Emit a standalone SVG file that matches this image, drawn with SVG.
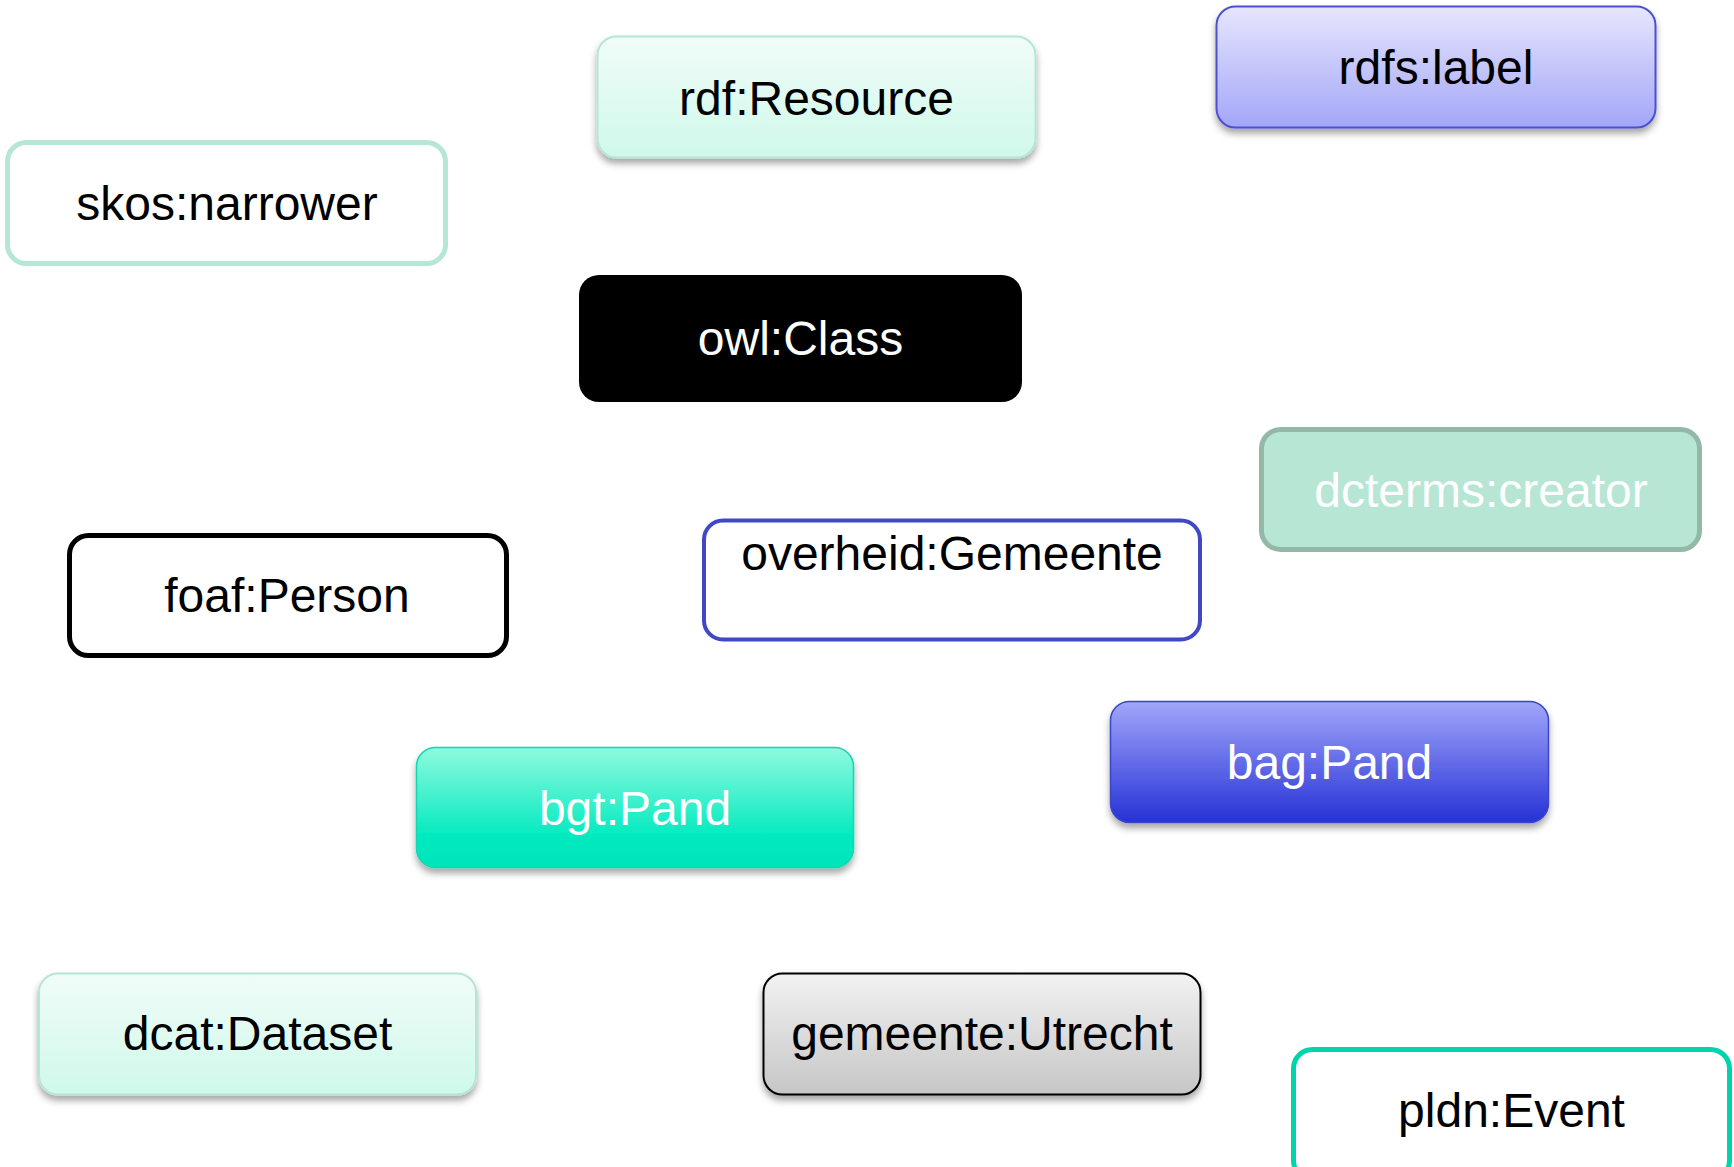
<svg xmlns="http://www.w3.org/2000/svg" width="1734" height="1167" viewBox="0 0 1734 1167">
<defs>
<linearGradient id="gMint" x1="0" y1="0" x2="0" y2="1"><stop offset="0" stop-color="#f1fcf8"/><stop offset="1" stop-color="#cff9ea"/></linearGradient>
<linearGradient id="gLav" x1="0" y1="0" x2="0" y2="1"><stop offset="0" stop-color="#e6e6fd"/><stop offset="1" stop-color="#a3a6f8"/></linearGradient>
<linearGradient id="gBlue" x1="0" y1="0" x2="0" y2="1"><stop offset="0" stop-color="#a1a6fa"/><stop offset="1" stop-color="#2632d6"/></linearGradient>
<linearGradient id="gTeal" x1="0" y1="0" x2="0" y2="1"><stop offset="0" stop-color="#90fadf"/><stop offset="0.75" stop-color="#00eabf"/><stop offset="1" stop-color="#00e4ba"/></linearGradient>
<linearGradient id="gGrey" x1="0" y1="0" x2="0" y2="1"><stop offset="0" stop-color="#f2f2f2"/><stop offset="1" stop-color="#c6c6c6"/></linearGradient>
<filter id="sh" x="-10%" y="-20%" width="120%" height="150%"><feDropShadow dx="0" dy="5" stdDeviation="3.5" flood-color="#000" flood-opacity="0.35"/></filter>
</defs>
<style>
text{font-family:"Liberation Sans",Arial,Helvetica,sans-serif;font-size:48px;text-anchor:middle}
.dk{fill:#000}
.wt{fill:#fff}
</style>
<g id="connectors"/>
<g id="n-rdfResource">
<rect x="597.5" y="36.5" width="438" height="121" rx="19" fill="url(#gMint)" stroke="#b5e5d5" stroke-width="2" filter="url(#sh)"/>
<text class="dk" x="816.5" y="115">rdf:Resource</text>
</g>
<g id="n-rdfsLabel">
<rect x="1216.5" y="6.5" width="439" height="121" rx="19" fill="url(#gLav)" stroke="#4b50d2" stroke-width="2" filter="url(#sh)"/>
<text class="dk" x="1436" y="84">rdfs:label</text>
</g>
<g id="n-skosNarrower">
<rect x="7.5" y="142.5" width="438" height="121" rx="19" fill="#fff" stroke="#b5e6d6" stroke-width="5"/>
<text class="dk" x="227" y="220">skos:narrower</text>
</g>
<g id="n-owlClass">
<rect x="579" y="275" width="443" height="127" rx="20" fill="#000"/>
<text class="wt" x="800.5" y="355">owl:Class</text>
</g>
<g id="n-dctermsCreator">
<rect x="1261.5" y="429.5" width="438" height="120" rx="19" fill="#b7e6d5" stroke="#92b9a7" stroke-width="5"/>
<text class="wt" x="1481" y="507">dcterms:creator</text>
</g>
<g id="n-foafPerson">
<rect x="69.5" y="535.5" width="437" height="120" rx="19" fill="#fff" stroke="#000" stroke-width="5"/>
<text class="dk" x="287" y="612">foaf:Person</text>
</g>
<g id="n-overheidGemeente">
<rect x="704" y="520.5" width="496" height="119" rx="19" fill="#fff" stroke="#4048c6" stroke-width="4"/>
<text class="dk" x="952" y="570">overheid:Gemeente</text>
</g>
<g id="n-bagPand">
<rect x="1110.5" y="701.5" width="438" height="121" rx="19" fill="url(#gBlue)" stroke="#3a44c8" stroke-width="1.5" filter="url(#sh)"/>
<text class="wt" x="1329.5" y="779">bag:Pand</text>
</g>
<g id="n-bgtPand">
<rect x="416.5" y="747.5" width="437" height="120" rx="19" fill="url(#gTeal)" stroke="#12d6b0" stroke-width="1.5" filter="url(#sh)"/>
<text class="wt" x="635" y="825">bgt:Pand</text>
</g>
<g id="n-dcatDataset">
<rect x="39" y="973.5" width="437" height="121" rx="19" fill="url(#gMint)" stroke="#b5e5d5" stroke-width="2" filter="url(#sh)"/>
<text class="dk" x="257.5" y="1050">dcat:Dataset</text>
</g>
<g id="n-gemeenteUtrecht">
<rect x="763.5" y="973.5" width="437" height="121" rx="19" fill="url(#gGrey)" stroke="#000" stroke-width="2" filter="url(#sh)"/>
<text class="dk" x="982" y="1050">gemeente:Utrecht</text>
</g>
<g id="n-pldnEvent">
<rect x="1293.5" y="1049.5" width="436" height="130" rx="19" fill="#fff" stroke="#00d4ac" stroke-width="5"/>
<text class="dk" x="1511.5" y="1127">pldn:Event</text>
</g>
</svg>
